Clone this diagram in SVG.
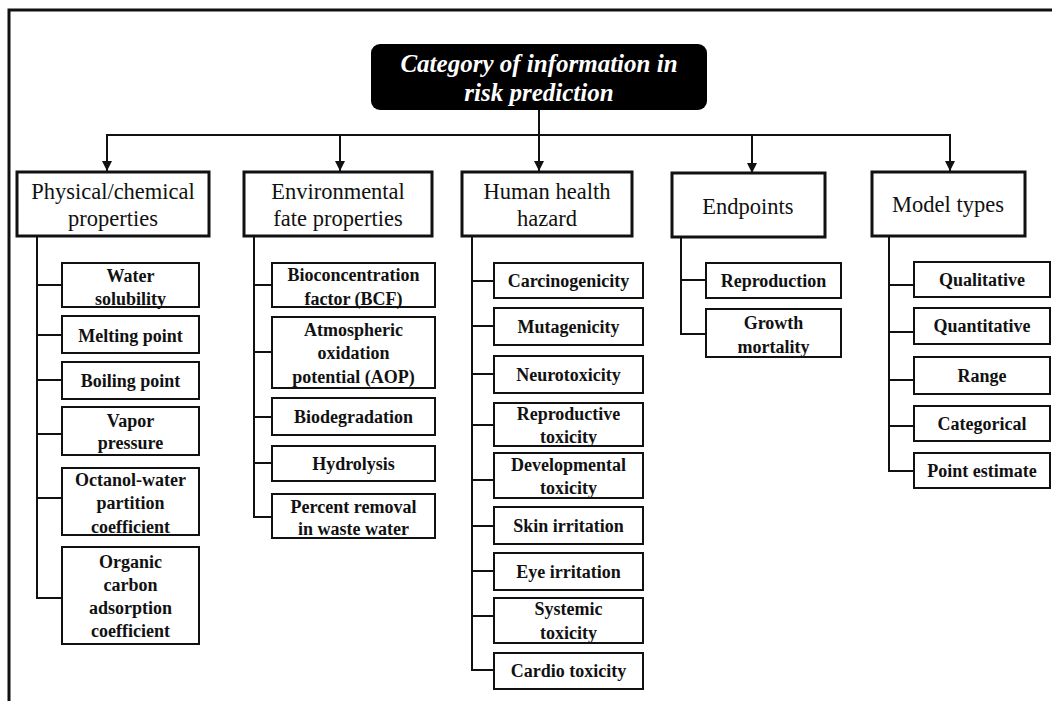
<svg xmlns="http://www.w3.org/2000/svg" width="1052" height="701" viewBox="0 0 1052 701">
<defs>
<marker id="arr" viewBox="0 0 10 10" refX="10" refY="5" markerWidth="10" markerHeight="10" markerUnits="userSpaceOnUse" orient="auto">
<path d="M0,0 L10,5 L0,10 z" fill="#111"/>
</marker>
<style>
.cat{fill:#fff;stroke:#111;stroke-width:3}
.item{fill:#fff;stroke:#111;stroke-width:2}
text{font-family:'Liberation Serif','Tinos','DejaVu Serif',serif;fill:#111;text-anchor:middle}
.ct{font-size:22.5px}
.it{font-size:18px;font-weight:bold}
.rt{font-size:25px;font-weight:bold;font-style:italic;fill:#fff}
.ln{fill:none;stroke:#111;stroke-width:2}
.fr{fill:none;stroke:#111;stroke-width:3}
</style>
</defs>
<rect width="1052" height="701" fill="#fff"/>
<path class="fr" d="M9,701 L9,10 L1052,10"/>

<g id="connectors">
<path class="ln" d="M539,110 L539,171" marker-end="url(#arr)"/>
<path class="ln" d="M107,135 L950,135"/>
<path class="ln" d="M107,134 L107,171" marker-end="url(#arr)"/>
<path class="ln" d="M340,134 L340,171" marker-end="url(#arr)"/>
<path class="ln" d="M752,134 L752,173" marker-end="url(#arr)"/>
<path class="ln" d="M950,134 L950,171" marker-end="url(#arr)"/>
<path class="ln" d="M37,236 L37,598 L62,598 M37,285 L62,285 M37,335 L62,335 M37,380 L62,380 M37,434 L62,434 M37,498 L62,498"/>
<path class="ln" d="M254,236 L254,517 L272,517 M254,285 L272,285 M254,352 L272,352 M254,417 L272,417 M254,463 L272,463"/>
<path class="ln" d="M472,236 L472,670 L494,670 M472,281 L494,281 M472,326 L494,326 M472,374 L494,374 M472,425 L494,425 M472,480 L494,480 M472,526 L494,526 M472,571 L494,571 M472,616 L494,616"/>
<path class="ln" d="M681,237 L681,334 L706,334 M681,280 L706,280"/>
<path class="ln" d="M889,236 L889,471 L914,471 M889,285 L914,285 M889,332 L914,332 M889,380 L914,380 M889,426 L914,426"/>
</g>

<g id="root">
<rect x="371" y="44" width="336" height="66" rx="9" fill="#000"/>
<text class="rt" x="539" y="72">Category of information in</text>
<text class="rt" x="539" y="101">risk prediction</text>
</g>

<g id="cat-phys">
<rect class="cat" x="17" y="172" width="192" height="64"/>
<text class="ct" x="113" y="199">Physical/chemical</text>
<text class="ct" x="113" y="226">properties</text>
</g>
<g id="cat-env">
<rect class="cat" x="244" y="172" width="188" height="64"/>
<text class="ct" x="338" y="199">Environmental</text>
<text class="ct" x="338" y="226">fate properties</text>
</g>
<g id="cat-human">
<rect class="cat" x="462" y="172" width="170" height="64"/>
<text class="ct" x="547" y="199">Human health</text>
<text class="ct" x="547" y="226">hazard</text>
</g>
<g id="cat-end">
<rect class="cat" x="672" y="173" width="153" height="64"/>
<text class="ct" x="748" y="214">Endpoints</text>
</g>
<g id="cat-model">
<rect class="cat" x="872" y="172" width="153" height="64"/>
<text class="ct" x="948" y="212">Model types</text>
</g>

<g id="p1"><rect class="item" x="62" y="263" width="137" height="44"/><text class="it" x="130.5" y="282">Water</text><text class="it" x="130.5" y="305">solubility</text></g>
<g id="p2"><rect class="item" x="62" y="316" width="137" height="37"/><text class="it" x="130.5" y="342">Melting point</text></g>
<g id="p3"><rect class="item" x="62" y="362" width="137" height="37"/><text class="it" x="130.5" y="387">Boiling point</text></g>
<g id="p4"><rect class="item" x="62" y="407" width="137" height="48"/><text class="it" x="130.5" y="427">Vapor</text><text class="it" x="130.5" y="449">pressure</text></g>
<g id="p5"><rect class="item" x="62" y="468" width="137" height="67"/><text class="it" x="130.5" y="486">Octanol-water</text><text class="it" x="130.5" y="509">partition</text><text class="it" x="130.5" y="533">coefficient</text></g>
<g id="p6"><rect class="item" x="62" y="547" width="137" height="97"/><text class="it" x="130.5" y="568">Organic</text><text class="it" x="130.5" y="591">carbon</text><text class="it" x="130.5" y="614">adsorption</text><text class="it" x="130.5" y="637">coefficient</text></g>

<g id="e1"><rect class="item" x="272" y="263" width="163" height="44"/><text class="it" x="353.5" y="281">Bioconcentration</text><text class="it" x="353.5" y="305">factor (BCF)</text></g>
<g id="e2"><rect class="item" x="272" y="317" width="163" height="71"/><text class="it" x="353.5" y="336">Atmospheric</text><text class="it" x="353.5" y="359">oxidation</text><text class="it" x="353.5" y="383">potential (AOP)</text></g>
<g id="e3"><rect class="item" x="272" y="398" width="163" height="37"/><text class="it" x="353.5" y="423">Biodegradation</text></g>
<g id="e4"><rect class="item" x="272" y="446" width="163" height="35"/><text class="it" x="353.5" y="470">Hydrolysis</text></g>
<g id="e5"><rect class="item" x="272" y="494" width="163" height="44"/><text class="it" x="353.5" y="513">Percent removal</text><text class="it" x="353.5" y="535">in waste water</text></g>

<g id="h1"><rect class="item" x="494" y="263" width="149" height="35"/><text class="it" x="568.5" y="287">Carcinogenicity</text></g>
<g id="h2"><rect class="item" x="494" y="308" width="149" height="37"/><text class="it" x="568.5" y="333">Mutagenicity</text></g>
<g id="h3"><rect class="item" x="494" y="356" width="149" height="37"/><text class="it" x="568.5" y="381">Neurotoxicity</text></g>
<g id="h4"><rect class="item" x="494" y="403" width="149" height="43"/><text class="it" x="568.5" y="420">Reproductive</text><text class="it" x="568.5" y="443">toxicity</text></g>
<g id="h5"><rect class="item" x="494" y="453" width="149" height="45"/><text class="it" x="568.5" y="471">Developmental</text><text class="it" x="568.5" y="494">toxicity</text></g>
<g id="h6"><rect class="item" x="494" y="507" width="149" height="37"/><text class="it" x="568.5" y="532">Skin irritation</text></g>
<g id="h7"><rect class="item" x="494" y="553" width="149" height="37"/><text class="it" x="568.5" y="578">Eye irritation</text></g>
<g id="h8"><rect class="item" x="494" y="598" width="149" height="45"/><text class="it" x="568.5" y="615">Systemic</text><text class="it" x="568.5" y="639">toxicity</text></g>
<g id="h9"><rect class="item" x="494" y="653" width="149" height="36"/><text class="it" x="568.5" y="677">Cardio toxicity</text></g>

<g id="d1"><rect class="item" x="706" y="263" width="135" height="35"/><text class="it" x="773.5" y="287">Reproduction</text></g>
<g id="d2"><rect class="item" x="706" y="309" width="135" height="48"/><text class="it" x="773.5" y="329">Growth</text><text class="it" x="773.5" y="353">mortality</text></g>

<g id="m1"><rect class="item" x="914" y="262" width="136" height="35"/><text class="it" x="982" y="286">Qualitative</text></g>
<g id="m2"><rect class="item" x="914" y="308" width="136" height="36"/><text class="it" x="982" y="332">Quantitative</text></g>
<g id="m3"><rect class="item" x="914" y="357" width="136" height="37"/><text class="it" x="982" y="382">Range</text></g>
<g id="m4"><rect class="item" x="914" y="406" width="136" height="35"/><text class="it" x="982" y="430">Categorical</text></g>
<g id="m5"><rect class="item" x="914" y="453" width="136" height="35"/><text class="it" x="982" y="477">Point estimate</text></g>
</svg>
